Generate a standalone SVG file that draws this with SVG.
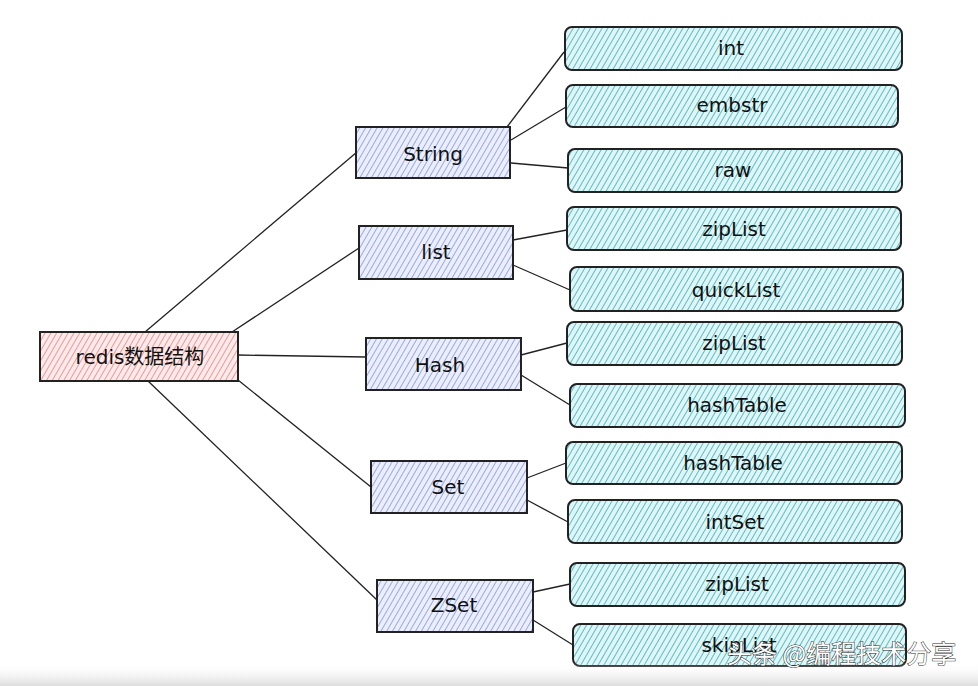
<svg xmlns="http://www.w3.org/2000/svg" width="978" height="686" viewBox="0 0 978 686">
<defs>
<pattern id="hr" patternUnits="userSpaceOnUse" width="5" height="5" patternTransform="rotate(30)">
<rect width="5" height="5" fill="#fdeaea"/><line x1="0" y1="0" x2="0" y2="5" stroke="#ec9090" stroke-width="1.8"/>
</pattern>
<pattern id="hp" patternUnits="userSpaceOnUse" width="5" height="5" patternTransform="rotate(30)">
<rect width="5" height="5" fill="#eceffb"/><line x1="0" y1="0" x2="0" y2="5" stroke="#8fa2e4" stroke-width="1.8"/>
</pattern>
<pattern id="ht" patternUnits="userSpaceOnUse" width="5" height="5" patternTransform="rotate(30)">
<rect width="5" height="5" fill="#e2f5f6"/><line x1="0" y1="0" x2="0" y2="5" stroke="#45bac2" stroke-width="1.8"/>
</pattern>
<linearGradient id="bot" x1="0" y1="0" x2="0" y2="1">
<stop offset="0" stop-color="#ffffff" stop-opacity="0"/><stop offset="1" stop-color="#dcdcdc"/>
</linearGradient>
</defs>
<style>
.root{fill:url(#hr);stroke:#222;stroke-width:2}
.mid{fill:url(#hp);stroke:#222;stroke-width:2}
.leaf{fill:url(#ht);stroke:#222;stroke-width:2}
.t{font-family:"DejaVu Sans","Noto Sans CJK SC",sans-serif;font-size:20px;fill:#111;text-anchor:middle;dominant-baseline:central}
.c line{stroke:#222;stroke-width:1.3}
.wm{font-family:"Noto Sans CJK SC",sans-serif;font-size:25px;fill:#fff;stroke:#2a2a2a;stroke-width:1;paint-order:stroke}
</style>
<rect width="978" height="686" fill="#ffffff"/>
<g class="c">
<line x1="145" y1="332" x2="357" y2="152"/>
<line x1="232" y1="332" x2="359" y2="248"/>
<line x1="238" y1="355" x2="366" y2="357"/>
<line x1="238" y1="380" x2="371" y2="487"/>
<line x1="148" y1="381" x2="377" y2="600"/>
<line x1="507" y1="127" x2="564" y2="52"/>
<line x1="511" y1="140" x2="566" y2="107"/>
<line x1="511" y1="163" x2="568" y2="168"/>
<line x1="513" y1="240" x2="567" y2="230"/>
<line x1="513" y1="265" x2="570" y2="290"/>
<line x1="521" y1="355" x2="567" y2="343"/>
<line x1="521" y1="375" x2="570" y2="405"/>
<line x1="527" y1="478" x2="566" y2="463"/>
<line x1="527" y1="500" x2="568" y2="522"/>
<line x1="533" y1="592" x2="570" y2="584"/>
<line x1="533" y1="620" x2="573" y2="645"/>
</g>
<g id="root"><rect class="root" x="40" y="332" width="198" height="49"/><text class="t" x="140" y="357">redis数据结构</text></g>
<g id="string"><rect class="mid" x="356" y="127" width="154" height="51"/><text class="t" x="433" y="154">String</text></g>
<g id="list"><rect class="mid" x="359" y="226" width="154" height="53"/><text class="t" x="436" y="252">list</text></g>
<g id="hash"><rect class="mid" x="366" y="338" width="155" height="52"/><text class="t" x="440" y="365">Hash</text></g>
<g id="set"><rect class="mid" x="371" y="461" width="156" height="52"/><text class="t" x="448" y="487">Set</text></g>
<g id="zset"><rect class="mid" x="377" y="580" width="156" height="52"/><text class="t" x="454" y="605">ZSet</text></g>
<g id="int"><rect class="leaf" x="565" y="27" width="337" height="43" rx="7"/><text class="t" x="731" y="48">int</text></g>
<g id="embstr"><rect class="leaf" x="566" y="85" width="332" height="42" rx="7"/><text class="t" x="732" y="105">embstr</text></g>
<g id="raw"><rect class="leaf" x="568" y="149" width="334" height="43" rx="7"/><text class="t" x="733" y="170">raw</text></g>
<g id="ziplist1"><rect class="leaf" x="567" y="207" width="334" height="43" rx="7"/><text class="t" x="734" y="229">zipList</text></g>
<g id="quicklist"><rect class="leaf" x="570" y="267" width="333" height="44" rx="7"/><text class="t" x="736" y="290">quickList</text></g>
<g id="ziplist2"><rect class="leaf" x="567" y="322" width="335" height="43" rx="7"/><text class="t" x="734" y="343">zipList</text></g>
<g id="hashtable1"><rect class="leaf" x="570" y="384" width="335" height="43" rx="7"/><text class="t" x="737" y="405">hashTable</text></g>
<g id="hashtable2"><rect class="leaf" x="566" y="442" width="336" height="42" rx="7"/><text class="t" x="733" y="463">hashTable</text></g>
<g id="intset"><rect class="leaf" x="568" y="500" width="334" height="43" rx="7"/><text class="t" x="735" y="522">intSet</text></g>
<g id="ziplist3"><rect class="leaf" x="570" y="563" width="335" height="43" rx="7"/><text class="t" x="737" y="584">zipList</text></g>
<g id="skiplist"><rect class="leaf" x="573" y="624" width="333" height="42" rx="7"/><text class="t" x="739" y="645">skipList</text></g>
<rect x="0" y="662" width="978" height="24" fill="url(#bot)"/>
<text class="wm" x="727" y="663">头条 @编程技术分享</text>
</svg>
